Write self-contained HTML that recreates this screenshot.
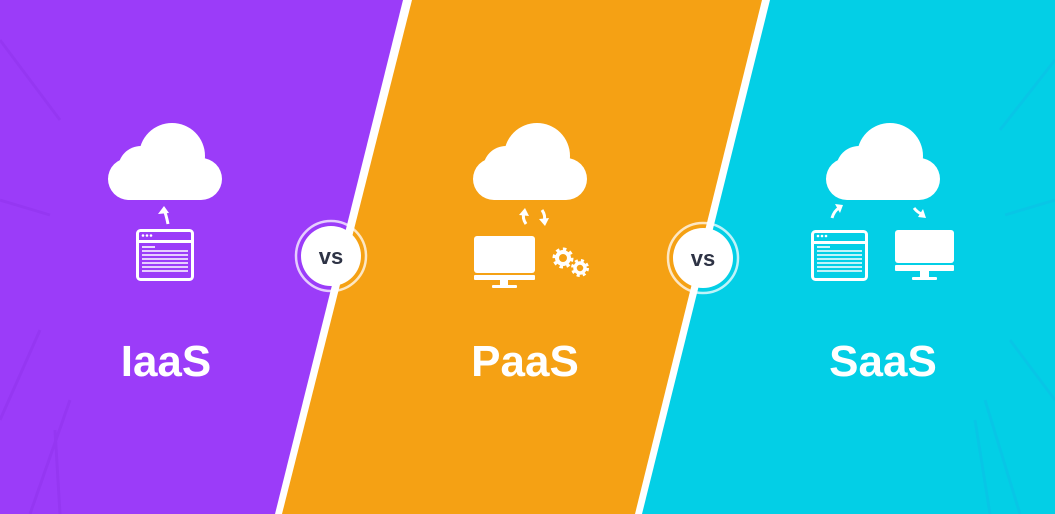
<!DOCTYPE html>
<html><head><meta charset="utf-8"><style>
html,body{margin:0;padding:0;width:1055px;height:514px;overflow:hidden;background:#fff}
svg{display:block}
text{font-family:"Liberation Sans",sans-serif;font-weight:bold}
</style></head><body>
<svg width="1055" height="514" viewBox="0 0 1055 514">
<rect width="1055" height="514" fill="#fff"/>
<polygon points="0,0 403,0 275,514 0,514" fill="#9b3cf9"/>
<g stroke="#8a2fe6" stroke-width="3" opacity="0.35">
<line x1="0" y1="40" x2="60" y2="120"/><line x1="0" y1="200" x2="50" y2="215"/>
<line x1="0" y1="420" x2="40" y2="330"/><line x1="30" y1="514" x2="70" y2="400"/>
<line x1="60" y1="514" x2="55" y2="430"/>
</g>
<polygon points="412,0 762,0 635,514 282,514" fill="#f5a114"/>
<polygon points="770,0 1055,0 1055,514 642,514" fill="#03cfe6"/>
<g stroke="#12b8e8" stroke-width="3" opacity="0.35">
<line x1="1055" y1="60" x2="1000" y2="130"/><line x1="1055" y1="200" x2="1005" y2="215"/>
<line x1="1055" y1="400" x2="1010" y2="340"/><line x1="1020" y1="514" x2="985" y2="400"/>
<line x1="990" y1="514" x2="975" y2="420"/>
</g>

<!-- VS circles -->
<circle cx="331" cy="256" r="35" fill="none" stroke="#fff" stroke-opacity="0.75" stroke-width="2.5"/>
<circle cx="331" cy="256" r="30" fill="#fff"/>
<text x="331" y="264" font-size="22" fill="#2e3345" text-anchor="middle">vs</text>
<circle cx="703" cy="258" r="35" fill="none" stroke="#fff" stroke-opacity="0.75" stroke-width="2.5"/>
<circle cx="703" cy="258" r="30" fill="#fff"/>
<text x="703" y="266" font-size="22" fill="#2e3345" text-anchor="middle">vs</text>

<!-- clouds -->
<g fill="#fff">
<g transform="translate(108,122)"><rect x="0" y="36" width="114" height="42" rx="21"/><circle cx="33" cy="47" r="23"/><circle cx="64" cy="34" r="33"/></g>
<g transform="translate(473,122)"><rect x="0" y="36" width="114" height="42" rx="21"/><circle cx="33" cy="47" r="23"/><circle cx="64" cy="34" r="33"/></g>
<g transform="translate(826,122)"><rect x="0" y="36" width="114" height="42" rx="21"/><circle cx="33" cy="47" r="23"/><circle cx="64" cy="34" r="33"/></g>
</g>

<!-- IaaS arrow & browser -->
<g fill="none" stroke="#fff" stroke-width="3">
<path d="M168 224 Q166 214 164 210"/>
</g>
<polygon points="158,214 164,206 169,213" fill="#fff"/>
<g>
<rect x="137.5" y="230.5" width="55" height="49" rx="3" fill="none" stroke="#fff" stroke-width="3"/>
<rect x="137" y="240" width="56" height="3" fill="#fff"/>
<g fill="#fff"><circle cx="143" cy="235.5" r="1.3"/><circle cx="147" cy="235.5" r="1.3"/><circle cx="151" cy="235.5" r="1.3"/></g>
<g stroke="#fff" stroke-width="1.6">
<line x1="142" y1="247" x2="155" y2="247"/>
<line x1="142" y1="251" x2="188" y2="251"/><line x1="142" y1="255" x2="188" y2="255"/>
<line x1="142" y1="259" x2="188" y2="259"/><line x1="142" y1="263" x2="188" y2="263"/>
<line x1="142" y1="267" x2="188" y2="267"/><line x1="142" y1="271" x2="188" y2="271"/>
</g></g>

<!-- PaaS arrows, monitor, gears -->
<g fill="none" stroke="#fff" stroke-width="3">
<path d="M526 224 Q522 218 524 213"/><path d="M542 210 Q546 216 544 221"/>
</g>
<polygon points="519,215 525,208 529,216" fill="#fff"/>
<polygon points="539,219 545,226 549,218" fill="#fff"/>
<rect x="474" y="236" width="61" height="37" rx="3" fill="#fff"/>
<rect x="474" y="275" width="61" height="5" rx="1" fill="#fff"/>
<rect x="500" y="280" width="8" height="5" fill="#fff"/>
<rect x="492" y="285" width="25" height="3" rx="1" fill="#fff"/>
<g fill="none" stroke="#fff">
<circle cx="563" cy="258" r="6" stroke-width="4"/>
<circle cx="563" cy="258" r="9" stroke-width="3" stroke-dasharray="3.5 3.5"/>
<circle cx="580" cy="268" r="5" stroke-width="3.5"/>
<circle cx="580" cy="268" r="7.5" stroke-width="3" stroke-dasharray="3 3"/>
</g>

<!-- SaaS arrows, browser, monitor -->
<g fill="none" stroke="#fff" stroke-width="3">
<path d="M832 218 Q834 211 839 208"/><path d="M914 208 Q918 213 922 214"/>
</g>
<polygon points="835,204 843,205 840,213" fill="#fff"/>
<polygon points="918,217 926,218 923,209" fill="#fff"/>
<g>
<rect x="812.5" y="231.5" width="54" height="48" rx="3" fill="none" stroke="#fff" stroke-width="3"/>
<rect x="812" y="241" width="55" height="3" fill="#fff"/>
<g fill="#fff"><circle cx="818" cy="236" r="1.3"/><circle cx="822" cy="236" r="1.3"/><circle cx="826" cy="236" r="1.3"/></g>
<g stroke="#fff" stroke-width="1.6">
<line x1="817" y1="247" x2="830" y2="247"/>
<line x1="817" y1="251" x2="862" y2="251"/><line x1="817" y1="255" x2="862" y2="255"/>
<line x1="817" y1="259" x2="862" y2="259"/><line x1="817" y1="263" x2="862" y2="263"/>
<line x1="817" y1="267" x2="862" y2="267"/><line x1="817" y1="271" x2="862" y2="271"/>
</g></g>
<rect x="895" y="230" width="59" height="33" rx="3" fill="#fff"/>
<rect x="895" y="265" width="59" height="6" rx="1" fill="#fff"/>
<rect x="920" y="271" width="9" height="6" fill="#fff"/>
<rect x="912" y="277" width="25" height="3" rx="1" fill="#fff"/>

<!-- labels -->
<text x="166" y="376" font-size="44" fill="#fff" text-anchor="middle">IaaS</text>
<text x="525" y="376" font-size="44" fill="#fff" text-anchor="middle">PaaS</text>
<text x="883" y="376" font-size="44" fill="#fff" text-anchor="middle">SaaS</text>
</svg>
</body></html>
